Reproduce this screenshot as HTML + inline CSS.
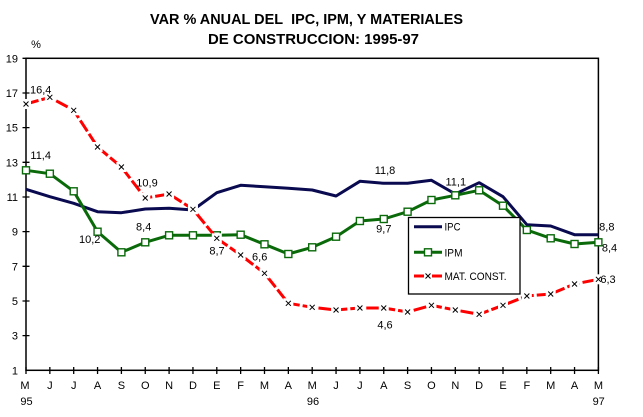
<!DOCTYPE html>
<html><head><meta charset="utf-8"><style>
html,body{margin:0;padding:0;background:#fff;}
svg{display:block;}
text{font-family:"Liberation Sans",Arial,sans-serif;fill:#000;}
</style></head><body>
<svg width="643" height="417" viewBox="0 0 643 417" xmlns="http://www.w3.org/2000/svg">
<defs>
<g id="xm"><rect x="-5" y="-5" width="10" height="10" fill="#fff"/><path d="M-2.5,-2.5L2.5,2.5M-2.5,2.5L2.5,-2.5" stroke="#000" stroke-width="1"/></g>
<rect id="sq" x="-3.5" y="-3.5" width="7" height="7" fill="#fff" stroke="#0a6a0a" stroke-width="1.4"/>
</defs>
<text x="150" y="24" font-size="14.5" font-weight="bold" textLength="313" lengthAdjust="spacingAndGlyphs">VAR % ANUAL DEL&#160; IPC, IPM, Y MATERIALES</text>
<text x="208" y="44" font-size="14.5" font-weight="bold" textLength="211" lengthAdjust="spacingAndGlyphs">DE CONSTRUCCION: 1995-97</text>
<text x="36" y="48" font-size="11" text-anchor="middle">%</text>
<rect x="26" y="58.3" width="572.4" height="312" fill="none" stroke="#000" stroke-width="1.5"/>
<g stroke="#000" stroke-width="1.3">
<path d="M22.5,58.3H29.5M22.5,93H29.5M22.5,127.6H29.5M22.5,162.3H29.5M22.5,197H29.5M22.5,231.6H29.5M22.5,266.3H29.5M22.5,301H29.5M22.5,335.6H29.5"/>
<path d="M26,367V374M49.85,367V374M73.7,367V374M97.55,367V374M121.4,367V374M145.25,367V374M169.1,367V374M192.95,367V374M216.8,367V374M240.65,367V374M264.5,367V374M288.35,367V374M312.2,367V374M336.05,367V374M359.9,367V374M383.75,367V374M407.6,367V374M431.45,367V374M455.3,367V374M479.15,367V374M503,367V374M526.85,367V374M550.7,367V374M574.55,367V374M598.4,367V374"/>
</g>
<g font-size="11" text-anchor="end">
<text x="18" y="62.3">19</text><text x="18" y="97">17</text><text x="18" y="131.6">15</text><text x="18" y="166.3">13</text><text x="18" y="201">11</text><text x="18" y="235.6">9</text><text x="18" y="270.3">7</text><text x="18" y="305">5</text><text x="18" y="339.6">3</text><text x="18" y="374.3">1</text>
</g>
<g font-size="11" text-anchor="middle">
<text x="25" y="389">M</text><text x="49.85" y="389">J</text><text x="73.7" y="389">J</text><text x="97.55" y="389">A</text><text x="121.4" y="389">S</text><text x="145.25" y="389">O</text><text x="169.1" y="389">N</text><text x="192.95" y="389">D</text><text x="216.8" y="389">E</text><text x="240.65" y="389">F</text><text x="264.5" y="389">M</text><text x="288.35" y="389">A</text><text x="312.2" y="389">M</text><text x="336.05" y="389">J</text><text x="359.9" y="389">J</text><text x="383.75" y="389">A</text><text x="407.6" y="389">S</text><text x="431.45" y="389">O</text><text x="455.3" y="389">N</text><text x="479.15" y="389">D</text><text x="503" y="389">E</text><text x="526.85" y="389">F</text><text x="550.7" y="389">M</text><text x="574.55" y="389">A</text><text x="598.4" y="389">M</text>
<text x="26.5" y="405">95</text><text x="313" y="405">96</text><text x="598.7" y="405">97</text>
</g>
<polyline fill="none" stroke="#0a0a50" stroke-width="3" stroke-linejoin="round" points="26,189.3 49.85,196.7 73.7,203.3 97.55,211.7 121.4,212.7 145.25,209 169.1,208.3 192.95,210 216.8,192.7 240.65,185.3 264.5,186.7 288.35,188.3 312.2,190 336.05,196 359.9,181.3 383.75,183.3 407.6,183.3 431.45,180.3 455.3,194 479.15,182.7 503,196.7 526.85,224.7 550.7,226 574.55,234.7 598.4,234.7"/>
<polyline fill="none" stroke="#0a6a0a" stroke-width="3" stroke-linejoin="round" points="26,170.3 49.85,173.7 73.7,191.3 97.55,231.7 121.4,252.3 145.25,242.3 169.1,235.3 192.95,235.3 216.8,235.3 240.65,234.7 264.5,244.3 288.35,254 312.2,247.3 336.05,236.7 359.9,221 383.75,219 407.6,211.7 431.45,200 455.3,195.3 479.15,190.3 503,205.7 526.85,230 550.7,238.3 574.55,244 598.4,242.3"/>
<g>
<use href="#sq" x="26" y="170.3"/><use href="#sq" x="49.85" y="173.7"/><use href="#sq" x="73.7" y="191.3"/><use href="#sq" x="97.55" y="231.7"/><use href="#sq" x="121.4" y="252.3"/><use href="#sq" x="145.25" y="242.3"/><use href="#sq" x="169.1" y="235.3"/><use href="#sq" x="192.95" y="235.3"/><use href="#sq" x="216.8" y="235.3"/><use href="#sq" x="240.65" y="234.7"/><use href="#sq" x="264.5" y="244.3"/><use href="#sq" x="288.35" y="254"/><use href="#sq" x="312.2" y="247.3"/><use href="#sq" x="336.05" y="236.7"/><use href="#sq" x="359.9" y="221"/><use href="#sq" x="383.75" y="219"/><use href="#sq" x="407.6" y="211.7"/><use href="#sq" x="431.45" y="200"/><use href="#sq" x="455.3" y="195.3"/><use href="#sq" x="479.15" y="190.3"/><use href="#sq" x="503" y="205.7"/><use href="#sq" x="526.85" y="230"/><use href="#sq" x="550.7" y="238.3"/><use href="#sq" x="574.55" y="244"/><use href="#sq" x="598.4" y="242.3"/>
</g>
<polyline fill="none" stroke="#ff0000" stroke-width="3" stroke-dasharray="13 3" points="26,104 49.85,97.3 73.7,110.3 97.55,147 121.4,167 145.25,198 169.1,194 192.95,209.3 216.8,238.3 240.65,255 264.5,273.3 288.35,303.3 312.2,307.3 336.05,310 359.9,308 383.75,308 407.6,312 431.45,305.3 455.3,310 479.15,314.3 503,305.3 526.85,296 550.7,294 574.55,284 598.4,279.3"/>
<g>
<use href="#xm" x="26" y="104"/><use href="#xm" x="49.85" y="97.3"/><use href="#xm" x="73.7" y="110.3"/><use href="#xm" x="97.55" y="147"/><use href="#xm" x="121.4" y="167"/><use href="#xm" x="145.25" y="198"/><use href="#xm" x="169.1" y="194"/><use href="#xm" x="192.95" y="209.3"/><use href="#xm" x="216.8" y="238.3"/><use href="#xm" x="240.65" y="255"/><use href="#xm" x="264.5" y="273.3"/><use href="#xm" x="288.35" y="303.3"/><use href="#xm" x="312.2" y="307.3"/><use href="#xm" x="336.05" y="310"/><use href="#xm" x="359.9" y="308"/><use href="#xm" x="383.75" y="308"/><use href="#xm" x="407.6" y="312"/><use href="#xm" x="431.45" y="305.3"/><use href="#xm" x="455.3" y="310"/><use href="#xm" x="479.15" y="314.3"/><use href="#xm" x="503" y="305.3"/><use href="#xm" x="526.85" y="296"/><use href="#xm" x="550.7" y="294"/><use href="#xm" x="574.55" y="284"/><use href="#xm" x="598.4" y="279.3"/>
</g>
<rect x="408.5" y="217.5" width="111.5" height="76.5" fill="#fff" stroke="#000" stroke-width="1.3"/>
<path d="M414,226.7H442" stroke="#0a0a50" stroke-width="3"/>
<path d="M414,252.3H442" stroke="#0a6a0a" stroke-width="3"/>
<use href="#sq" x="428" y="252.3"/>
<path d="M414,276H424M432,276H442" stroke="#ff0000" stroke-width="3"/>
<path d="M425.5,273.5L430.5,278.5M425.5,278.5L430.5,273.5" stroke="#000" stroke-width="1"/>
<g font-size="11">
<text x="444.5" y="230.7" textLength="16" lengthAdjust="spacingAndGlyphs">IPC</text>
<text x="444.5" y="256.3" textLength="18" lengthAdjust="spacingAndGlyphs">IPM</text>
<text x="444.5" y="280" textLength="62" lengthAdjust="spacingAndGlyphs">MAT. CONST.</text>
</g>
<g font-size="11" text-anchor="middle">
<text x="40.7" y="93.3">16,4</text>
<text x="40.7" y="159">11,4</text>
<text x="147" y="186.7">10,9</text>
<text x="89.7" y="243">10,2</text>
<text x="143.7" y="230.7">8,4</text>
<text x="217" y="254.7">8,7</text>
<text x="259.7" y="260.7">6,6</text>
<text x="385" y="174">11,8</text>
<text x="455.8" y="185.7">11,1</text>
<text x="383.8" y="232.7">9,7</text>
<text x="606.8" y="230.7">8,8</text>
<text x="609.5" y="251.3">8,4</text>
<text x="608" y="283">6,3</text>
<text x="385" y="328.3">4,6</text>
</g>
</svg>
</body></html>
